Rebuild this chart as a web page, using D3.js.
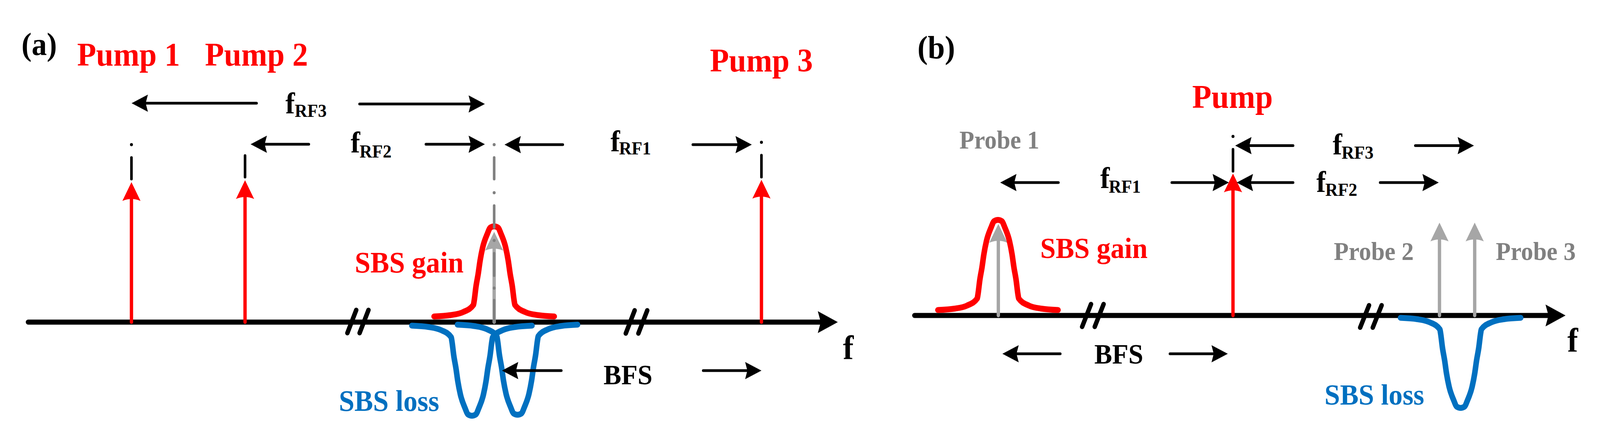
<!DOCTYPE html>
<html>
<head>
<meta charset="utf-8">
<script src="https://cdn.jsdelivr.net/npm/d3@7"></script>
<style>
html,body{margin:0;padding:0;background:#fff;overflow:hidden}
svg{display:block;width:100vw;height:100vh}
text{font-family:"Liberation Serif","Times New Roman",serif;font-weight:bold}
</style>
</head>
<body>
<svg id="c" viewBox="0 0 4316 1123" preserveAspectRatio="none"></svg>
<script>
// ---------- DATA (axis units: frequency position, relative amplitude) ----------
const profileOffsets = [-8.1,-5.85,-4.15,-2.8,-2.7,-2.45,-2.15,-1.9,-1.55,-0.95,-0.5,0,0.5,0.95,1.55,1.9,2.15,2.45,2.7,2.8,4.15,5.85,8.1];
const profileAmps    = [0,0.7,2.3,5.9,7.9,15.3,21.9,28.5,35.3,42,45.5,46.1,45.5,42,35.3,28.5,21.9,15.3,7.9,5.9,2.3,0.7,0];

const pumpsA      = [13.93, 29.25, 98.9];
const pumpTipsA   = [71.6, 72.6, 72.8];
const probeA      = [62.85];
const probeTipA   = [46.2];
const gainCenterA = [62.85];
const gainBaseA   = 2.9;
const lossCentersA= [59.85, 66.0];
const lossBasesA  = [-1.8, -1.3];
const axisEndA    = 109.2;
const breaksA     = [43.05, 44.7, 80.6, 82.3];

const pumpsB      = [42.95];
const pumpTipsB   = [72.6];
const probesB     = [11.3, 70.8, 75.55];
const probeTipsB  = [46.8, 47.5, 47.5];
const gainCenterB = [11.25];
const gainBaseB   = 2.8;
const lossCentersB= [73.65];
const lossBasesB  = [-1.2];
const axisEndB    = 87.8;
const breaksB     = [22.6, 24.3, 60.1, 61.8];

// double arrows: left tip, left end, right start, right tip, level
const spansA = [
  [13.95,30.8,null,null,112],
  [null,null,44.7,61.6,111.6],
  [30.0,37.85,53.65,61.6,91],
  [64.25,72.1,89.65,97.6,90.8],
  [63.9,71.9,91.05,98.9,-24.8]
];
const spansB = [
  [11.55,19.4,34.7,42.4,68],
  [43.25,51.05,67.55,75.45,86.9],
  [43.45,51.05,62.8,70.7,68],
  [11.85,19.65,34.45,42.25,-19.6]
];
// dash-dot guides: x, dots, dashes
const guidesA = [
  {x:13.93, c:"#000", dots:[90.8], dashes:[[84.2,73.2]]},
  {x:29.25, c:"#000", dots:[], dashes:[[85.2,74.2]]},
  {x:98.9,  c:"#000", dots:[92], dashes:[[85.4,74.2]]},
  {x:62.85, c:"#808080", dots:[90.8,66.2,41.8,17.4], dashes:[[84.2,73.2],[59.6,48.4],[35.2,23.8],[11.2,0]]}
];
const guidesB = [
  {x:42.95, c:"#000", dots:[91.6], dashes:[[85,73.8]]}
];

// ---------- TEXT ----------
const labelsMain = ["(a)","Pump 1","Pump 2","Pump 3","SBS gain","SBS loss","BFS","f",
                    "(b)","Pump","Probe 1","Probe 2","Probe 3","SBS gain","SBS loss","BFS","f"];
const labelsF = ["RF3","RF2","RF1","RF1","RF3","RF2"];

// ---------- DRAWING ----------
const RED="#ff0000", BLUE="#0070c0", GREY="#a6a6a6", DGREY="#808080";
const svg = d3.select("#c");

function panel(o){
  const x = d3.scaleLinear().domain([0,o.axisEnd]).range([o.x0,o.x0+o.axisEnd*20]);
  const y = d3.scaleLinear().domain([0,100]).range([o.y0,o.y0-500]);
  const g = svg.append("g");
  const prof = d3.zip(profileOffsets,profileAmps);

  const seg=(x1,y1,x2,y2,c,w,cap)=>g.append("line").attr("x1",x1).attr("y1",y1).attr("x2",x2).attr("y2",y2)
     .attr("stroke",c).attr("stroke-width",w).attr("stroke-linecap",cap||"round");

  // axis
  seg(x(0),y(0),x(o.axisEnd)-40,y(0),"#000",13);
  g.append("path").attr("fill","#000")
   .attr("d",`M${x(o.axisEnd)},${y(0)}L${x(o.axisEnd)-54},${y(0)-28}L${x(o.axisEnd)-46},${y(0)}L${x(o.axisEnd)-54},${y(0)+28}Z`);

  // axis breaks
  o.breaks.forEach((b,i)=>{
    const k=Math.floor(i/2);
    seg(x(b),y(0)+o.breakDown[k],x(b)+24,y(0)-o.breakTop[k],"#000",12);
  });

  const vArrow=(fx,tip,c,w)=>{
    const px=x(fx), ty=y(tip);
    seg(px,y(0),px,ty+40,c,w,"round");
    g.append("path").attr("fill",c)
     .attr("d",`M${px},${ty}L${px-24.5},${ty+48}Q${px},${ty+38} ${px+24.5},${ty+48}Z`);
  };

  // gain / loss curves
  const line = d3.line().curve(d3.curveMonotoneX);
  const curve=(center,base,sign,c)=>g.append("path").attr("fill","none").attr("stroke",c)
     .attr("stroke-width",15).attr("stroke-linecap","round").attr("stroke-linejoin","round")
     .attr("d",line(prof.map(([d,a])=>[x(center+d),y(base+sign*a)])));

  // probes, pumps
  o.probes.forEach((p,i)=>vArrow(p,o.probeTips[i],GREY,9));
  o.pumps.forEach((p,i)=>vArrow(p,o.pumpTips[i],RED,9));

  o.gainCenters.forEach(c=>curve(c,o.gainBase,1,RED));
  o.lossCenters.forEach((c,i)=>curve(c,o.lossBases[i],-1,BLUE));

  // guides
  o.guides.forEach(d=>{
    d.dots.forEach(v=>g.append("circle").attr("cx",x(d.x)).attr("cy",y(v)).attr("r",4).attr("fill",d.c));
    d.dashes.forEach(v=>seg(x(d.x),y(v[0]),x(d.x),y(v[1]),d.c,7));
  });

  // dimension arrows
  const head=(tx,ty,dir)=>g.append("path").attr("fill","#000")
     .attr("d",`M${tx},${ty}L${tx+dir*44},${ty-22}L${tx+dir*38},${ty}L${tx+dir*44},${ty+22}Z`);
  o.spans.forEach(s=>{
    const ly=y(s[4]);
    if(s[0]!==null){ seg(x(s[0])+30,ly,x(s[1]),ly,"#000",7); head(x(s[0]),ly,1); }
    if(s[2]!==null){ seg(x(s[2]),ly,x(s[3])-30,ly,"#000",7); head(x(s[3]),ly,-1); }
  });
  return g;
}

panel({x0:76,y0:824,axisEnd:axisEndA,pumps:pumpsA,pumpTips:pumpTipsA,probes:probeA,probeTips:probeTipA,
  gainCenters:gainCenterA,gainBase:gainBaseA,lossCenters:lossCentersA,lossBases:lossBasesA,
  breaks:breaksA,breakTop:[31,30],breakDown:[28,29],spans:spansA,guides:guidesA});
panel({x0:2467,y0:807,axisEnd:axisEndB,pumps:pumpsB,pumpTips:pumpTipsB,probes:probesB,probeTips:probeTipsB,
  gainCenters:gainCenterB,gainBase:gainBaseB,lossCenters:lossCentersB,lossBases:lossBasesB,
  breaks:breaksB,breakTop:[29,26],breakDown:[29,31],spans:spansB,guides:guidesB});

// text placement
const mainPos = [
 [58,141,82,"#000"],[208,168,84,RED],[553,168,84,RED],[1915,183,84,RED],[957,697,76,RED],[914,1051,75.5,BLUE],[1628,983,72,"#000"],[2274,919,86,"#000"],
 [2475,149,83,"#000"],[3216,276,85,RED],[2588,380,65.6,DGREY],[3598,665,65.6,DGREY],[4035,665,65.6,DGREY],[2806,660,75,RED],[3573,1035,75,BLUE],[2952,930,72,"#000"],[4228,900,86,"#000"]
];
labelsMain.forEach((t,i)=>{
  const p=mainPos[i];
  svg.append("text").attr("x",p[0]).attr("y",p[1]).attr("font-size",p[2]).attr("fill",p[3]).text(t);
});
const fPos = [[770,290,795,299],[946,390,970,403],[1647,387,1670,395],[2968,481,2991,493],[3595,395,3619,406],[3551,491,3575,501]];
labelsF.forEach((t,i)=>{
  const p=fPos[i];
  svg.append("text").attr("x",p[0]).attr("y",p[1]).attr("font-size",76).attr("fill","#000").text("f");
  svg.append("text").attr("x",p[2]).attr("y",p[3]).attr("font-size",47).attr("fill","#000").text(t);
});
</script>
</body>
</html>
